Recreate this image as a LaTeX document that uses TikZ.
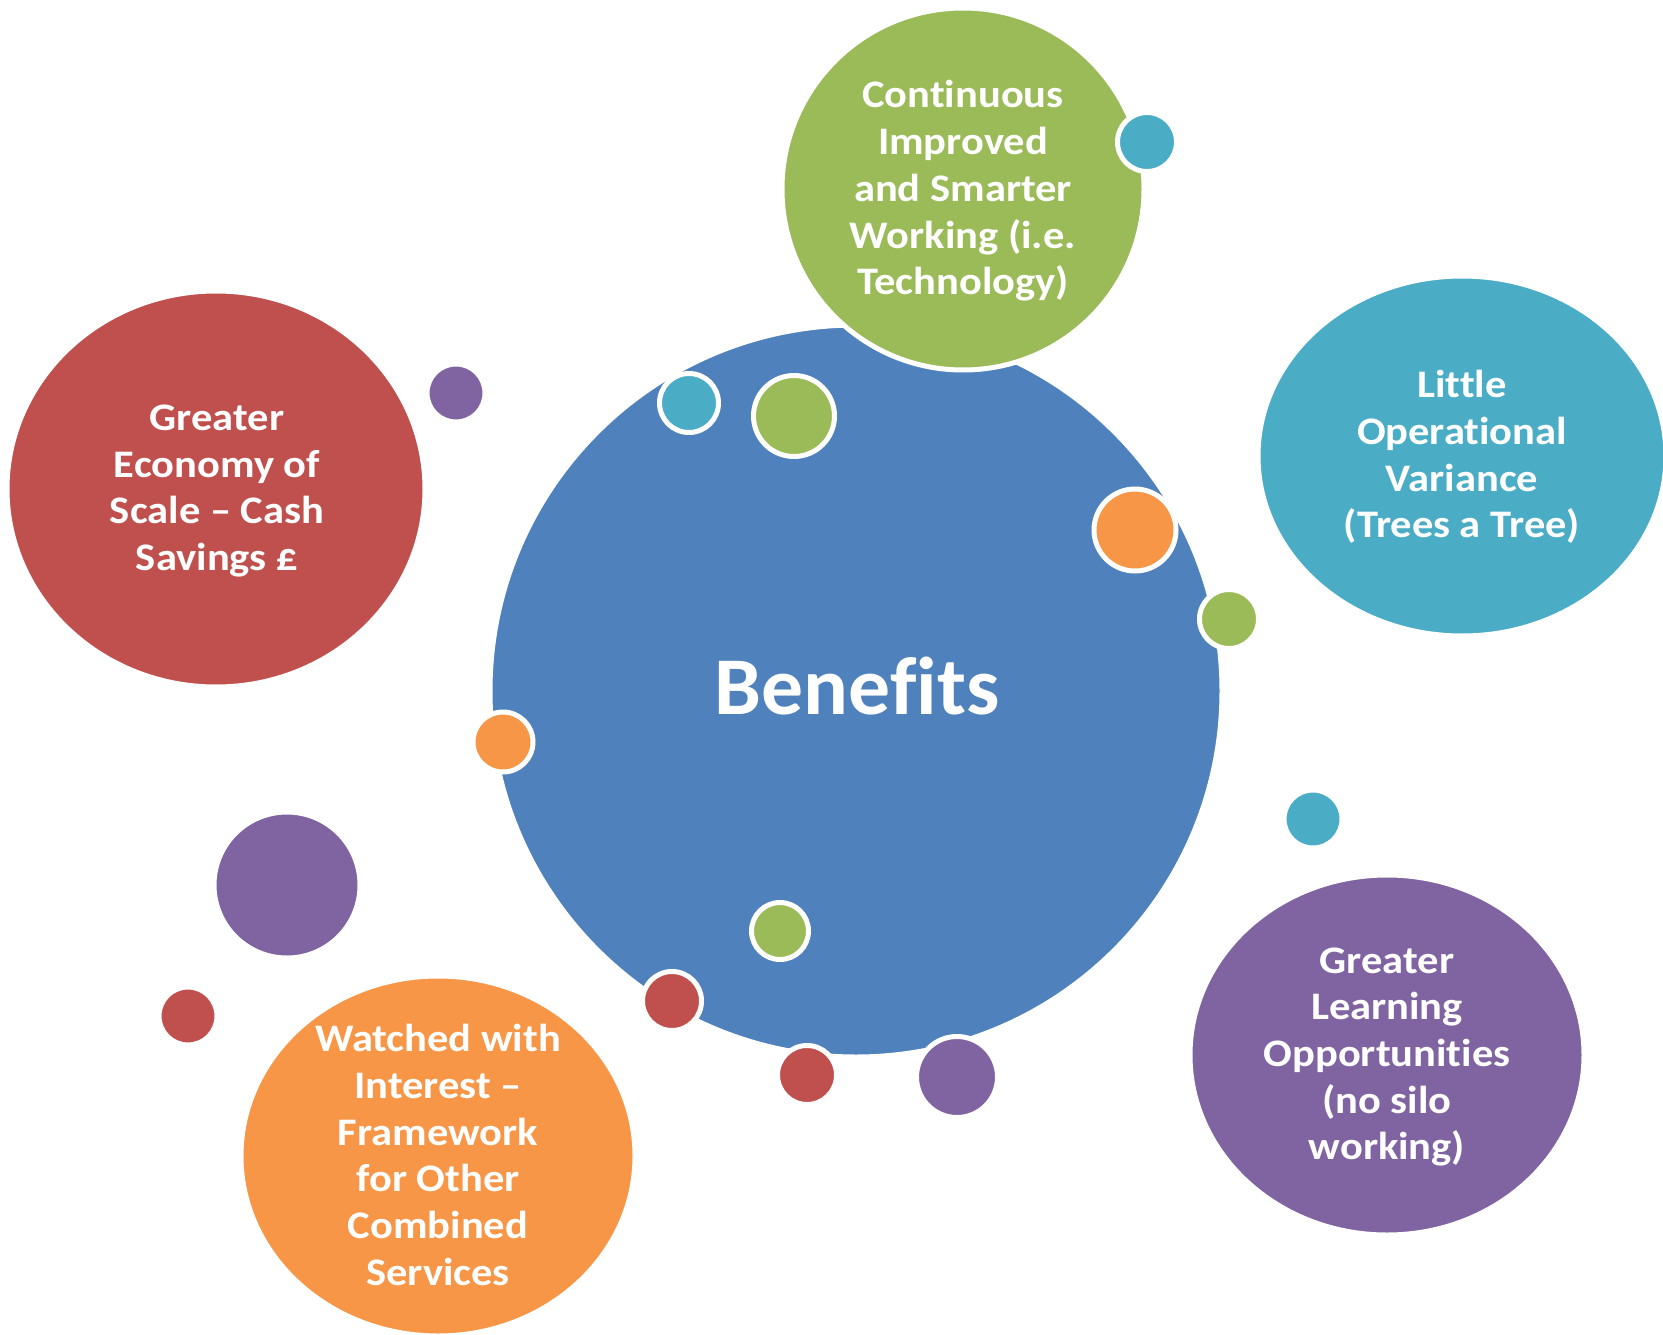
\documentclass[tikz,border=0pt]{standalone}
\usepackage{fontspec}
\setmainfont{Carlito}[FakeStretch=1.09, RawFeature={-liga;-clig}]
\newfontfamily\corefont{Carlito}[FakeStretch=1.02, RawFeature={-liga;-clig}]
\usetikzlibrary{shapes.geometric}

\definecolor{coreblue}{HTML}{4F81BD}
\definecolor{leafgreen}{HTML}{9BBB59}
\definecolor{seateal}{HTML}{4BACC6}
\definecolor{brickred}{HTML}{C0504D}
\definecolor{plum}{HTML}{8064A2}
\definecolor{amber}{HTML}{F79646}

\begin{document}
\begin{tikzpicture}[x=1pt, y=-1pt,
    blob/.style={ellipse, draw=white, line width=5pt, inner sep=0pt},
    dot/.style={circle, draw=white, line width=5pt, inner sep=0pt},
    txt/.style={text=white, align=center, font=\fontsize{39}{46.7}\selectfont\bfseries}]
    \useasboundingbox (0,0) rectangle (1663,1335);

    % the big bubbles
    \node[blob, fill=coreblue, minimum width=732, minimum height=732] (core) at (856,691) {};
    \node[blob, fill=leafgreen, minimum width=362, minimum height=362] (tech) at (963,189) {};
    \node[blob, fill=seateal, minimum width=408, minimum height=360] (vary) at (1462,456) {};
    \node[blob, fill=brickred, minimum width=418, minimum height=396] (scale) at (216,489) {};
    \node[blob, fill=amber, minimum width=394, minimum height=360] (watch) at (438,1156) {};
    \node[blob, fill=plum, minimum width=394, minimum height=360] (learn) at (1387,1055) {};

    % the little dots
    \node[dot, fill=plum, minimum size=58] (p1) at (456,393) {};
    \node[dot, fill=seateal, minimum size=59] (t1) at (689,403) {};
    \node[dot, fill=leafgreen, minimum size=81] (g1) at (794,416) {};
    \node[dot, fill=seateal, minimum size=59] (t2) at (1147,142) {};
    \node[dot, fill=amber, minimum size=82] (o1) at (1135,530) {};
    \node[dot, fill=leafgreen, minimum size=59] (g2) at (1229,619) {};
    \node[dot, fill=amber, minimum size=60] (o2) at (503,742) {};
    \node[dot, fill=seateal, minimum size=58] (t3) at (1313,819) {};
    \node[dot, fill=plum, minimum size=146] (p2) at (287,885) {};
    \node[dot, fill=brickred, minimum size=58] (r1) at (188,1016) {};
    \node[dot, fill=leafgreen, minimum size=57] (g3) at (780,931) {};
    \node[dot, fill=brickred, minimum size=59] (r2) at (672,1001) {};
    \node[dot, fill=brickred, minimum size=59] (r3) at (807,1075) {};
    \node[dot, fill=plum, minimum size=81] (p3) at (957,1077) {};

    % labels
    \node[txt, anchor=base, font=\corefont\fontsize{82}{96}\selectfont\bfseries] (corelbl) at (857,714) {Benefits};
    \node[txt] (techlbl) at (963,191) {Continuous\\Improved\\and Smarter\\Working (i.e.\\Technology)};
    \node[txt] (varylbl) at (1462,457) {Little\\Operational\\Variance\\(Trees a Tree)};
    \node[txt] (scalelbl) at (217,491) {Greater\\Economy of\\Scale – Cash\\Savings £};
    \node[txt] (watchlbl) at (438,1155) {Watched with\\Interest –\\Framework\\for Other\\Combined\\Services};
    \node[txt] (learnlbl) at (1387,1057) {Greater\\Learning\\Opportunities\\(no silo\\working)};
\end{tikzpicture}
\end{document}
